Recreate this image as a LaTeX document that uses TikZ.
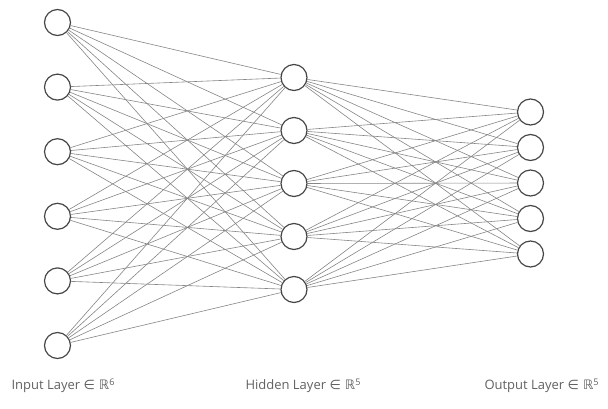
\documentclass[tikz,border=0pt]{standalone}
\usepackage{fontspec}
\setmainfont{Open Sans}
\newfontfamily\symfont{DejaVu Sans}
\usepackage{tikz}
\usetikzlibrary{positioning}

\begin{document}
\begin{tikzpicture}[
        x=1pt, y=-1pt,
        neuron/.style={circle, minimum size=26pt, inner sep=0pt, draw=black!72, line width=1.2pt, fill=white},
        edge/.style={draw=black!48, line width=0.6pt},
        layerlabel/.style={anchor=west, text=black!62, font=\fontsize{13}{15}\selectfont}
    ]
        \useasboundingbox (0,0) rectangle (608,408);

        % Input layer (6)
        \foreach \i in {1,...,6}
            \node (I\i) [neuron] at (57.5, {22.5 + (\i-1)*64.6}) {};

        % Hidden layer (5)
        \foreach \i in {1,...,5}
            \node (H\i) [neuron] at (294, {77.5 + (\i-1)*53}) {};

        % Output layer (5)
        \foreach \i in {1,...,5}
            \node (O\i) [neuron] at (530.5, {112 + (\i-1)*35.5}) {};

        % Connections
        \foreach \i in {1,...,6}
            \foreach \j in {1,...,5}
                \draw [edge] (I\i) -- (H\j);
        \foreach \i in {1,...,5}
            \foreach \j in {1,...,5}
                \draw [edge] (H\i) -- (O\j);

        % Labels
        \node (inlabel) [layerlabel] at (8, 386) {Input Layer {\symfont ∈ ℝ}\textsuperscript{6}};
        \node (hidlabel) [layerlabel] at (242, 386) {Hidden Layer {\symfont ∈ ℝ}\textsuperscript{5}};
        \node (outlabel) [layerlabel] at (481, 386) {Output Layer {\symfont ∈ ℝ}\textsuperscript{5}};

    \end{tikzpicture}
\end{document}
